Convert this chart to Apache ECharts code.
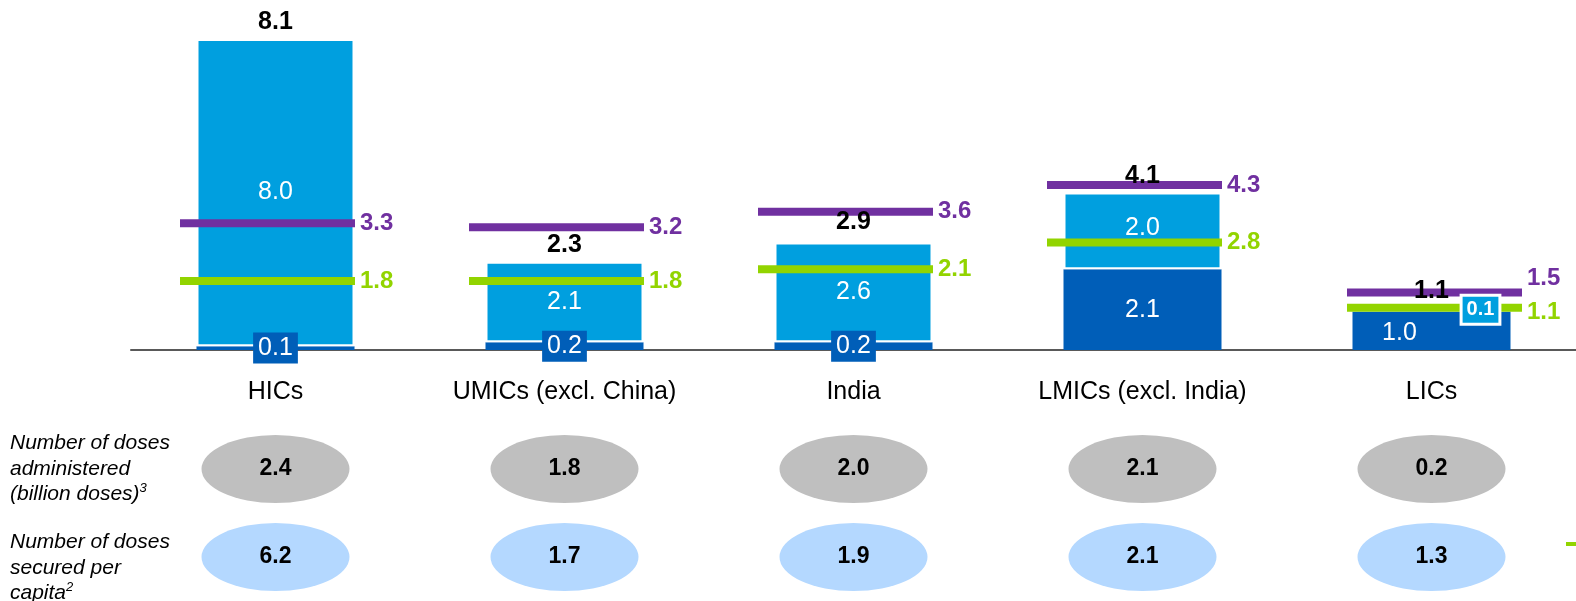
<!DOCTYPE html>
<html><head><meta charset="utf-8">
<script src="https://cdn.jsdelivr.net/npm/echarts@6/dist/echarts.min.js"></script>
<style>html,body{margin:0;padding:0;background:#fff;overflow:hidden;width:100%;height:100%}#c{width:1576px;height:601px}</style>
</head><body><div id="c"></div>
<script>
var categories = ['HICs', 'UMICs (excl. China)', 'India', 'LMICs (excl. India)', 'LICs'];
var darkSegment = [0.1, 0.2, 0.2, 2.1, 1.0];
var lightSegment = [8.0, 2.1, 2.6, 2.0, 0.1];
var totals = [8.1, 2.3, 2.9, 4.1, 1.1];
var purpleLine = [3.3, 3.2, 3.6, 4.3, 1.5];
var greenLine = [1.8, 1.8, 2.1, 2.8, 1.1];
var dosesAdministered = [2.4, 1.8, 2.0, 2.1, 0.2];
var dosesPerCapita = [6.2, 1.7, 1.9, 2.1, 1.3];

var FONT = 'Liberation Sans, Arial, sans-serif';
var DARK = '#005EB8', LIGHT = '#009FDF', PURPLE = '#7030A0', GREEN = '#92D400';
var fmtBar = function (p) { return Number(p.value).toFixed(1); };

var darkData = darkSegment.map(function (v, i) {
  var it = { value: v };
  if (v < 0.5) {
    it.label = { show: true, position: 'inside', color: '#fff', fontSize: 25, fontFamily: FONT,
      backgroundColor: DARK, padding: [4, 5, 2, 5], formatter: fmtBar };
  } else if (i === 4) {
    it.label = { show: true, position: 'inside', color: '#fff', fontSize: 25, fontFamily: FONT, offset: [-32, 2], formatter: fmtBar };
  } else {
    it.label = { show: true, position: 'inside', color: '#fff', fontSize: 25, fontFamily: FONT, formatter: fmtBar };
  }
  return it;
});
var lightData = lightSegment.map(function (v, i) {
  var it = { value: v };
  it.label = { show: v >= 0.5, position: 'inside', color: '#fff', fontSize: 25, fontFamily: FONT, formatter: fmtBar,
    offset: [0, i === 3 ? -3 : 0] };
  return it;
});
// labels for the thin light segments, drawn above the reference lines
var thinLightLabels = [];
lightSegment.forEach(function (v, i) {
  if (v < 0.5) thinLightLabels.push([i, darkSegment[i] + v / 2, v]);
});
function lineData(arr, lastOffset) {
  return arr.map(function (v, i) {
    var it = { value: [i, v], symbolOffset: [i === 4 ? 3 : -8, 0] };
    if (i === 4) it.label = { offset: lastOffset };
    return it;
  });
}
var lineLabel = function (color) {
  return { show: true, position: 'right', distance: 5, color: color, fontSize: 24, fontWeight: 'bold', fontFamily: FONT,
    formatter: function (p) { return p.value[1].toFixed(1); } };
};

var chart = echarts.init(document.getElementById('c'));
chart.setOption({
  animation: false,
  textStyle: { fontFamily: FONT },
  grid: [
    { left: 131, right: 0, top: 39, height: 311 },
    { left: 131, right: 0, top: 425, height: 180 }
  ],
  xAxis: [
    { type: 'category', data: categories, gridIndex: 0,
      axisLine: { lineStyle: { color: '#595959', width: 2 } }, axisTick: { show: false },
      axisLabel: { interval: 0, fontSize: 25, color: '#000', margin: 30, fontFamily: FONT } },
    { type: 'category', data: categories, gridIndex: 1, show: false }
  ],
  yAxis: [
    { type: 'value', gridIndex: 0, min: 0, max: 8.1, show: false, splitLine: { show: false } },
    { type: 'category', gridIndex: 1, data: ['administered', 'secured'], inverse: true, show: false }
  ],
  series: [
    { type: 'bar', name: 'dark', stack: 'a', barWidth: 158, data: darkData,
      itemStyle: { color: DARK }, z: 2 },
    { type: 'bar', name: 'light', stack: 'a', barWidth: 158, data: lightData,
      itemStyle: { color: LIGHT, borderColor: '#fff', borderWidth: 2 }, z: 2 },
    { type: 'scatter', name: 'purple', data: lineData(purpleLine, [0, -14]),
      symbol: 'rect', symbolSize: [175, 8], itemStyle: { color: PURPLE, opacity: 1 }, z: 3,
      label: lineLabel(PURPLE) },
    { type: 'scatter', name: 'green', data: lineData(greenLine, [0, 5]),
      symbol: 'rect', symbolSize: [175, 8], itemStyle: { color: GREEN, opacity: 1 }, z: 3,
      label: lineLabel(GREEN) },
    { type: 'scatter', name: 'thinLight', data: thinLightLabels, symbolSize: 0,
      itemStyle: { color: LIGHT, opacity: 1 }, z: 5,
      label: { show: true, position: 'inside', offset: [49, 0], color: '#fff', fontSize: 20, fontWeight: 'bold', fontFamily: FONT,
        backgroundColor: LIGHT, borderColor: '#fff', borderWidth: 3, padding: [4, 4, 2, 4], opacity: 1,
        formatter: function (p) { return p.value[2].toFixed(1); } } },
    { type: 'scatter', name: 'total', data: totals.map(function (v, i) { return [i, v]; }),
      symbolSize: 0, itemStyle: { color: '#000', opacity: 1 }, z: 4,
      label: { show: true, position: 'top', distance: 4, color: '#000', fontSize: 25, fontWeight: 'bold', fontFamily: FONT, opacity: 1,
        formatter: function (p) { return p.value[1].toFixed(1); } } },
    { type: 'scatter', name: 'administered', xAxisIndex: 1, yAxisIndex: 1,
      data: dosesAdministered.map(function (v, i) { return [i, 0, v]; }),
      symbol: 'circle', symbolSize: [148, 68], itemStyle: { color: '#BFBFBF', opacity: 1 },
      label: { show: true, position: 'inside', color: '#000', fontSize: 23, fontWeight: 'bold', fontFamily: FONT,
        formatter: function (p) { return p.value[2].toFixed(1); } } },
    { type: 'scatter', name: 'secured', xAxisIndex: 1, yAxisIndex: 1,
      data: dosesPerCapita.map(function (v, i) { return [i, 1, v]; }),
      symbol: 'circle', symbolSize: [148, 68], itemStyle: { color: '#B4D8FF', opacity: 1 },
      label: { show: true, position: 'inside', color: '#000', fontSize: 23, fontWeight: 'bold', fontFamily: FONT,
        formatter: function (p) { return p.value[2].toFixed(1); } } }
  ],
  graphic: [
    { type: 'text', left: 10, top: 433, style: {
      text: '{i|Number of doses}\n{i|administered}\n{i|(billion doses)}{s|3}',
      rich: { i: { fontSize: 21, fontStyle: 'italic', fontFamily: FONT, fill: '#000', lineHeight: 25.5 },
              s: { fontSize: 13, fontStyle: 'italic', fontFamily: FONT, fill: '#000', lineHeight: 25.5, verticalAlign: 'top', padding: [0,0,8,0] } } } },
    { type: 'text', left: 10, top: 532, style: {
      text: '{i|Number of doses}\n{i|secured per}\n{i|capita}{s|2}',
      rich: { i: { fontSize: 21, fontStyle: 'italic', fontFamily: FONT, fill: '#000', lineHeight: 25.5 },
              s: { fontSize: 13, fontStyle: 'italic', fontFamily: FONT, fill: '#000', lineHeight: 25.5, verticalAlign: 'top', padding: [0,0,8,0] } } } },
    { type: 'rect', left: 1566, top: 542, shape: { width: 10, height: 4 }, style: { fill: GREEN } }
  ]
});
</script></body></html>
